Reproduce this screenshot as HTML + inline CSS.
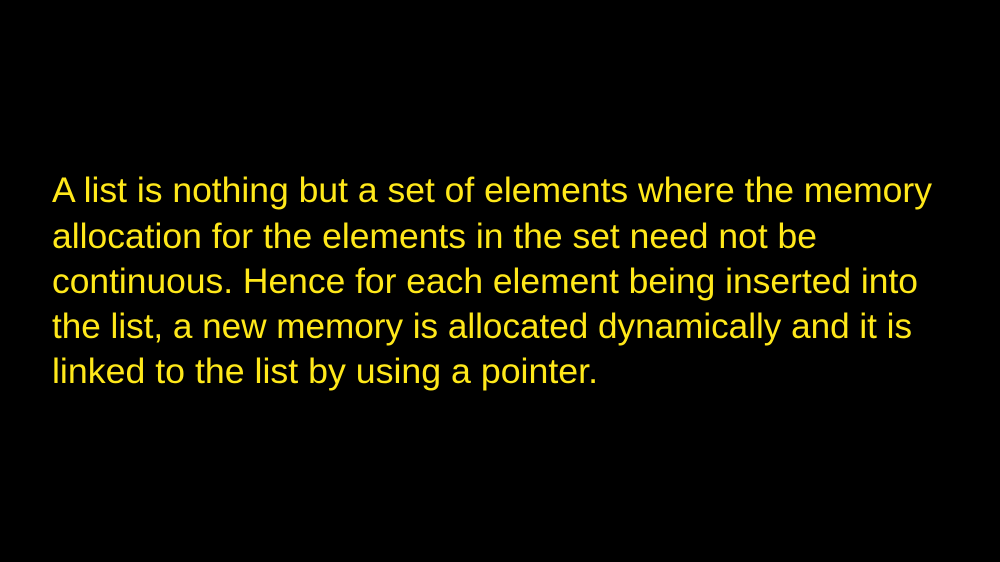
<!DOCTYPE html>
<html>
<head>
<meta charset="utf-8">
<style>
  html, body { margin: 0; padding: 0; background: #000; }
  body { width: 1000px; height: 562px; overflow: hidden; }
  svg { display: block; }
  text { font-family: "Liberation Sans", sans-serif; font-size: 35px; fill: #ffe81a; }
</style>
</head>
<body>
<svg width="1000" height="562" viewBox="0 0 1000 562">
  <rect x="0" y="0" width="1000" height="562" fill="#000"/>
  <g>
    <text x="52" y="202" textLength="880" lengthAdjust="spacingAndGlyphs">A list is nothing but a set of elements where the memory</text>
    <text x="52" y="248" textLength="765" lengthAdjust="spacingAndGlyphs">allocation for the elements in the set need not be</text>
    <text x="52" y="293" textLength="866" lengthAdjust="spacingAndGlyphs">continuous. Hence for each element being inserted into</text>
    <text x="52" y="338" textLength="860" lengthAdjust="spacingAndGlyphs">the list, a new memory is allocated dynamically and it is</text>
    <text x="52" y="383" textLength="546" lengthAdjust="spacingAndGlyphs">linked to the list by using a pointer.</text>
  </g>
</svg>
</body>
</html>
